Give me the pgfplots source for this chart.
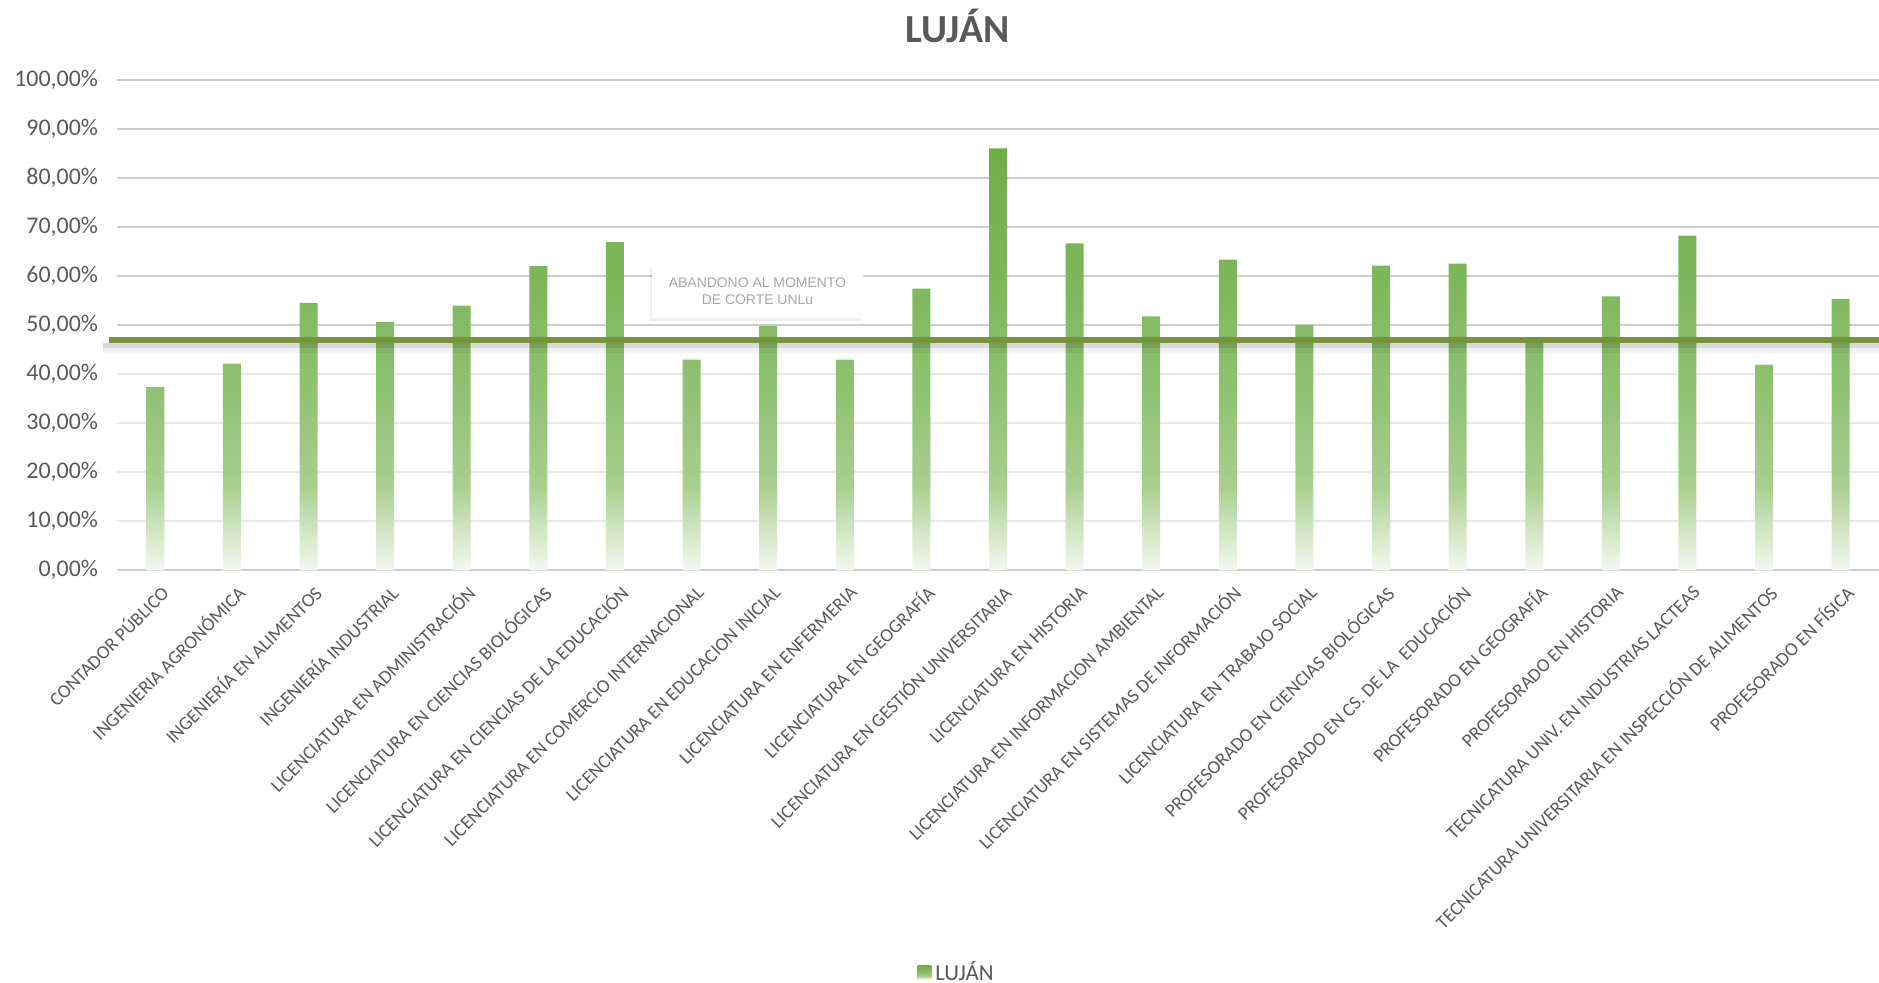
\documentclass[border=0pt]{standalone}
\usepackage{pgfplots}
\pgfplotsset{compat=1.18}
\usepackage{fontspec}
\setmainfont{Carlito}
\newfontfamily\arialfont{Liberation Sans}
\usetikzlibrary{calc,shadows}
\definecolor{txt}{HTML}{595959}
\definecolor{boxtxt}{HTML}{A6A6A6}
\definecolor{gridhi}{HTML}{CDCDCD}
\definecolor{gridlo}{HTML}{E8E8E8}
\definecolor{linec}{HTML}{77933C}
\definecolor{gA}{HTML}{F3F8EF}
\definecolor{gB}{HTML}{CFE4C0}
\definecolor{gC}{HTML}{A8CF8E}
\definecolor{gD}{HTML}{92C375}
\definecolor{gE}{HTML}{7CB65A}
\definecolor{gF}{HTML}{70AD47}
\pgfdeclareverticalshading{barshade}{100bp}{color(0bp)=(gA); color(25bp)=(gA); color(30bp)=(gB); color(35bp)=(gC); color(45bp)=(gD); color(60bp)=(gE); color(75bp)=(gF); color(100bp)=(gF)}
\begin{document}
\begin{tikzpicture}
\begin{axis}[
  scale only axis, width=881bp, height=245bp,
  ybar, bar width=9bp,
  xmin=-0.5, xmax=22.5, ymin=0, ymax=100,
  clip=false,
  axis line style={draw=none},
  major tick length=0pt,
  ytick={10,20,30,40},
  extra y ticks={0,50,60,70,80,90,100},
  ymajorgrids=true,
  major grid style={color=gridlo, line width=1.1bp},
  extra y tick style={ymajorgrids=true, major grid style={color=gridhi, line width=1.1bp}},
  yticklabel={\pgfmathprintnumber[fixed,fixed zerofill,precision=2,use comma,assume math mode=true]{\tick}\%},
  yticklabel style={font=\fontsize{12}{14}\selectfont, text=txt, xshift=-6bp},
  xtick={0,...,22},
  xticklabels={CONTADOR PÚBLICO, INGENIERIA AGRONÓMICA, INGENIERÍA EN ALIMENTOS, INGENIERÍA INDUSTRIAL, LICENCIATURA EN ADMINISTRACIÓN, LICENCIATURA EN CIENCIAS BIOLÓGICAS, LICENCIATURA EN CIENCIAS DE LA EDUCACIÓN, LICENCIATURA EN COMERCIO INTERNACIONAL, LICENCIATURA EN EDUCACION INICIAL, LICENCIATURA EN ENFERMERIA, LICENCIATURA EN GEOGRAFÍA, LICENCIATURA EN GESTIÓN UNIVERSITARIA, LICENCIATURA EN HISTORIA, LICENCIATURA EN INFORMACION AMBIENTAL, LICENCIATURA EN SISTEMAS DE INFORMACIÓN, LICENCIATURA EN TRABAJO SOCIAL, PROFESORADO EN CIENCIAS BIOLÓGICAS, PROFESORADO EN CS. DE LA\ \ EDUCACIÓN, PROFESORADO EN GEOGRAFÍA, PROFESORADO EN HISTORIA, TECNICATURA UNIV. EN INDUSTRIAS LACTEAS, TECNICATURA UNIVERSITARIA EN INSPECCIÓN DE ALIMENTOS, PROFESORADO EN FÍSICA},
  xticklabel style={rotate=45, anchor=east, font=\fontsize{9.5}{11}\selectfont, text=txt, yshift=-10bp, xshift=0bp},
  title={LUJÁN},
  title style={font=\fontsize{20}{24}\selectfont\bfseries, text=txt, at={(0.477,1)}, anchor=center, yshift=21bp},
  legend style={at={(0.477,-0.82)}, anchor=center, draw=none, fill=none, font=\fontsize{11.5}{13}\selectfont, text=txt},
  legend image code/.code={\path[shade, shading=barshade] (0bp,-3.5bp) rectangle (7bp,3.5bp);},
]
\addplot[draw=none, shade, shading=barshade] coordinates {
 (0,37.4) (1,42.2) (2,54.6) (3,50.7) (4,54.0) (5,62.1) (6,67.0) (7,43.0)
 (8,49.9) (9,43.0) (10,57.5) (11,86.1) (12,66.7) (13,51.8) (14,63.4) (15,50.1)
 (16,62.2) (17,62.6) (18,46.5) (19,55.9) (20,68.3) (21,42.0) (22,55.4)};
\addlegendentry{LUJÁN}
\addplot[sharp plot, no markers, draw=black, draw opacity=0.15, line width=2.6bp, forget plot] coordinates {(-0.68,45.9) (22.5,45.9)};
\addplot[sharp plot, no markers, draw=black, draw opacity=0.05, line width=2.6bp, forget plot] coordinates {(-0.68,44.9) (22.5,44.9)};
\addplot[sharp plot, no markers, draw=linec, line width=2.6bp, forget plot] coordinates {(-0.6,47) (22.5,47)};
\node[fill=white, minimum width=105.5bp, minimum height=26.5bp, inner sep=0pt, align=center, font=\arialfont\fontsize{7}{8.7}\selectfont, text=boxtxt, drop shadow={shadow xshift=-1bp, shadow yshift=-1.5bp, opacity=0.12}] at (axis cs:7.86,56.9) {ABANDONO AL MOMENTO\\DE CORTE UNLu};
\coordinate (SW) at (rel axis cs:0,0);
\coordinate (NE) at (rel axis cs:1,1);
\end{axis}
\pgfresetboundingbox
\path[use as bounding box] ($(SW)+(-58.5bp,-206.3bp)$) rectangle ($(NE)+(0,40.15bp)$);
\end{tikzpicture}
\end{document}
